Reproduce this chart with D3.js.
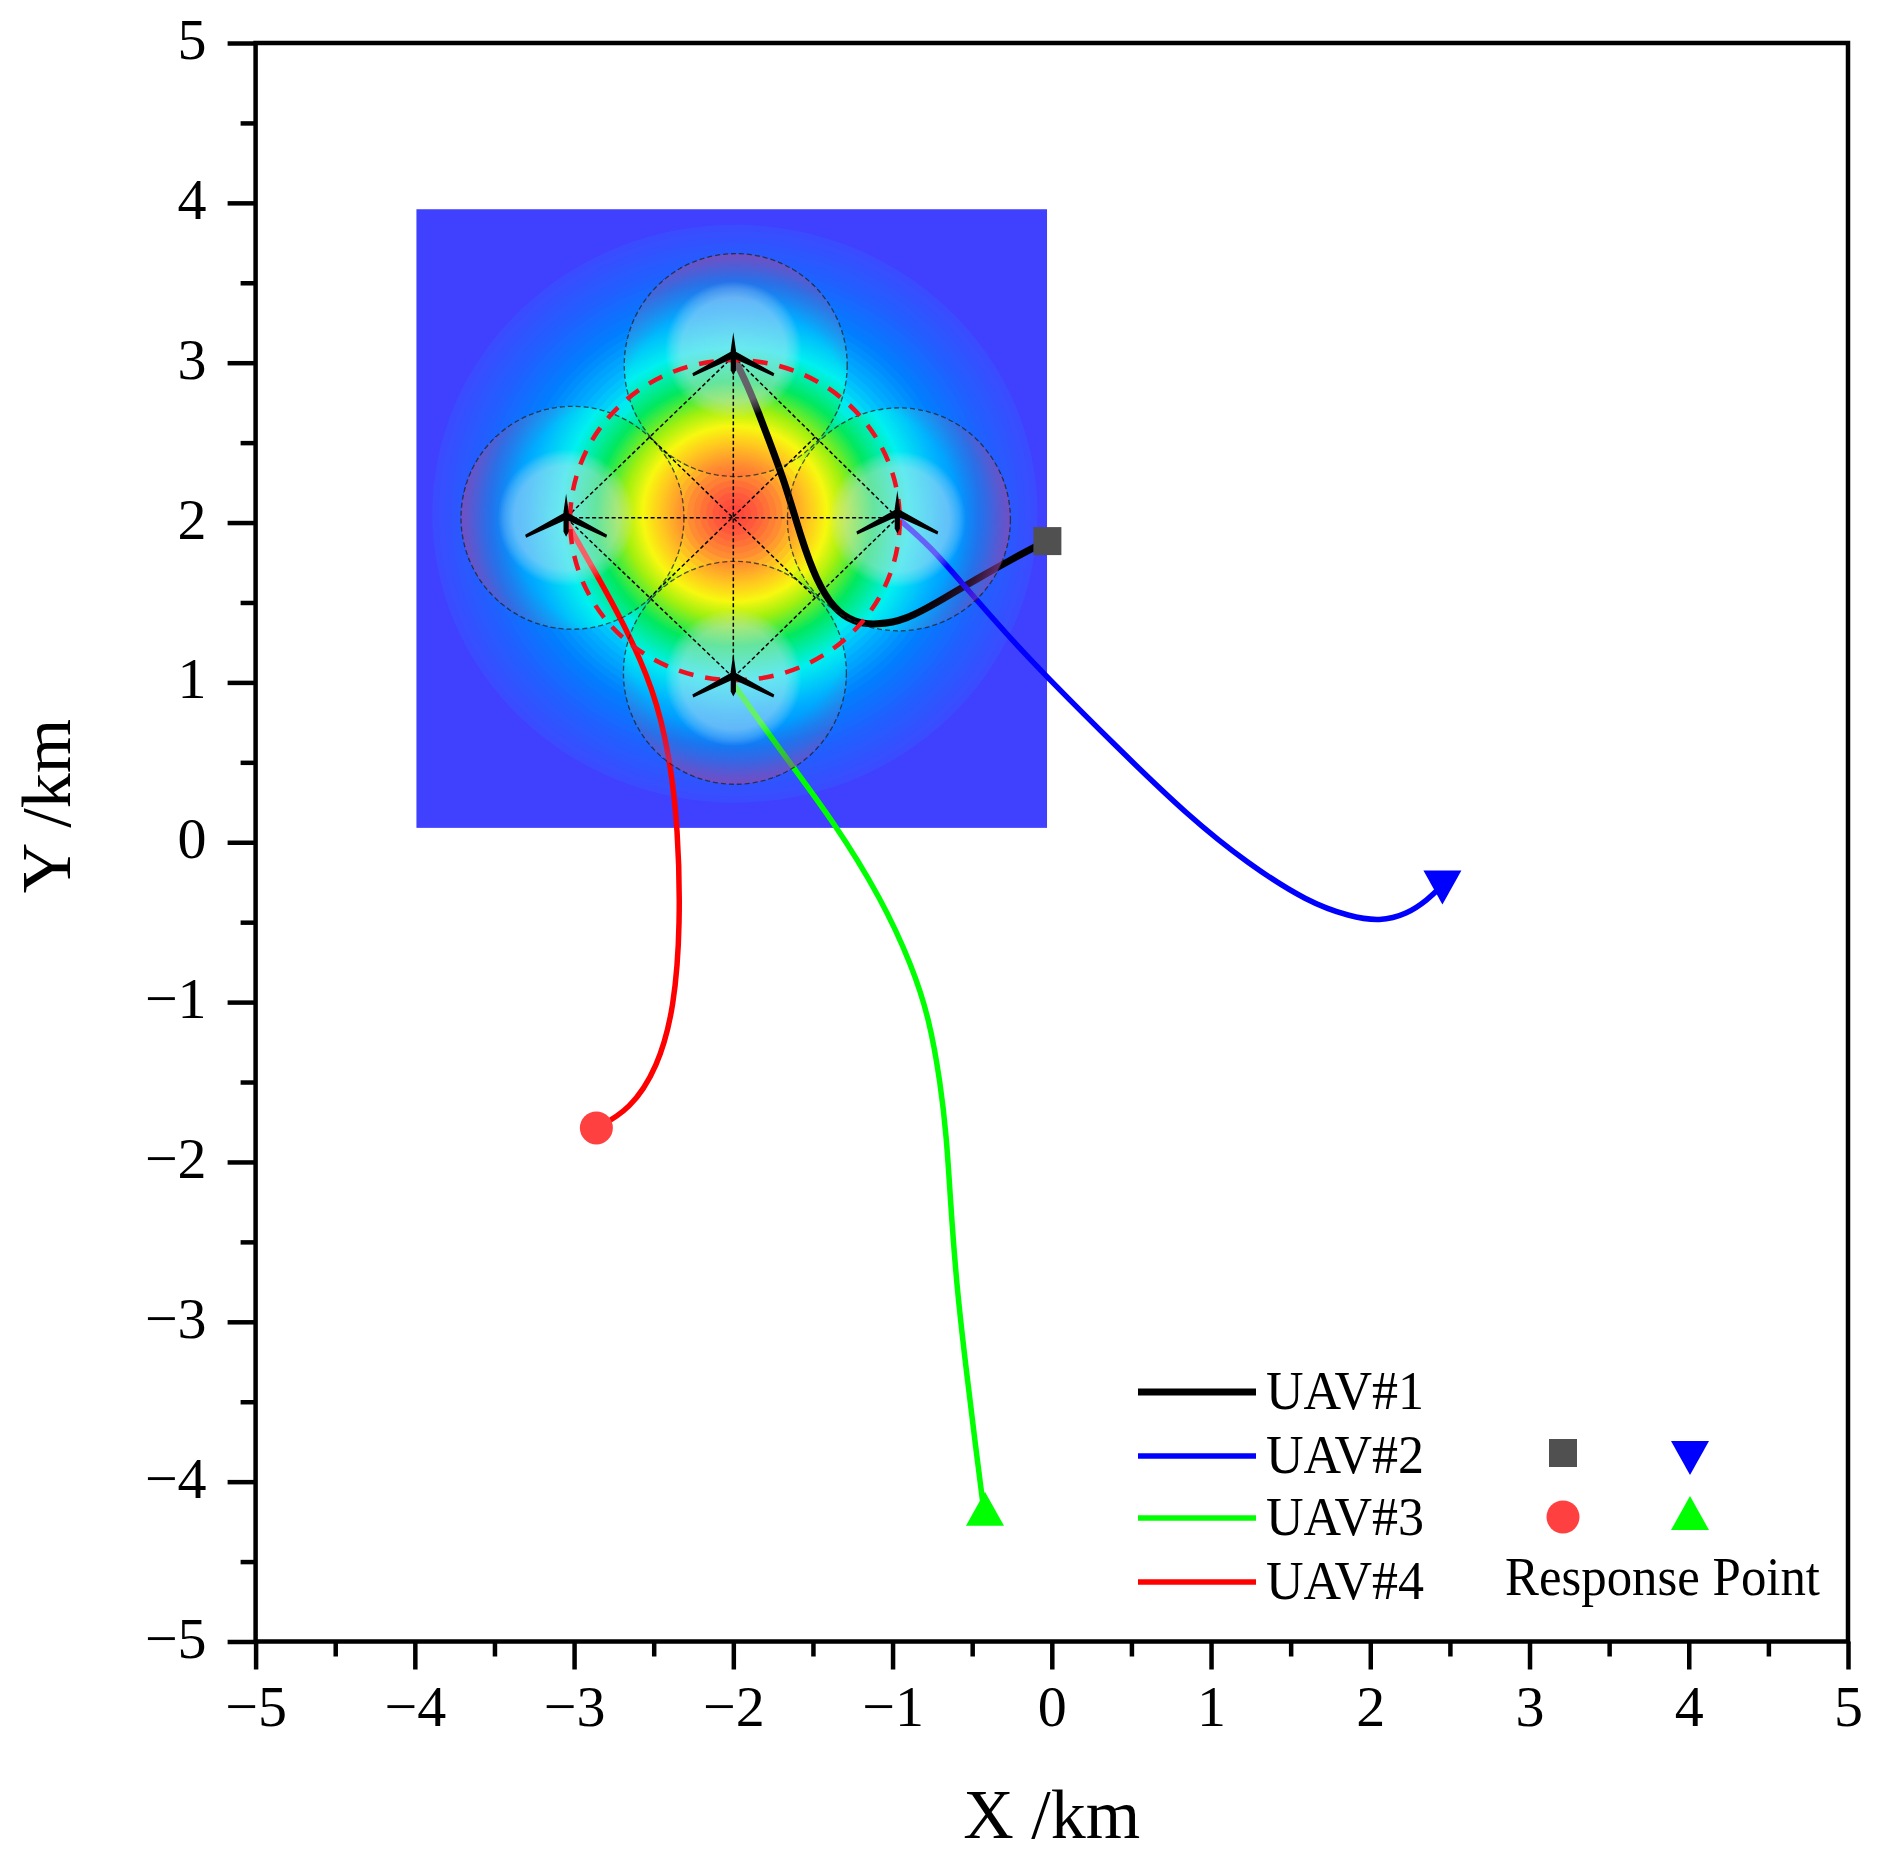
<!DOCTYPE html>
<html><head><meta charset="utf-8"><style>html,body{margin:0;background:#fff}svg{display:block}</style>
<script src="https://d3js.org/d3.v7.min.js"></script></head><body><svg id="c" width="1882" height="1876"></svg>
<script>
const majorTicks=[-5,-4,-3,-2,-1,0,1,2,3,4,5];
const minorTicks=[-4.5,-3.5,-2.5,-1.5,-0.5,0.5,1.5,2.5,3.5,4.5];
const heatBox=[-3.99,3.96,-0.03,0.09];
const fieldCenter=[-1.99,2.03];
const fieldRadii=[0,0.15,0.30,0.43,0.53,0.64,0.80,1.0,1.2,1.4,1.65,1.9];
const fieldColors=["#ff3c3c","#ff5a3c","#ff8c32","#ffc820","#f8f810","#a0f010","#00e860","#00f0f0","#00b0ff","#0080ff","#2060ff","#3a4cff"];
const bgColor="#4040ff";
const zoneX=[-1.985,-3.01,-0.96,-1.99];
const zoneY=[2.985,2.03,2.02,1.06];
const discY=[3.08,2.03,2.02,1.03];
const zoneR=0.70;
const uavX=[-2.0,-3.05,-0.97,-2.0];
const uavY=[3.04,2.03,2.03,1.03];
const glyphY=[3.04,2.03,2.05,1.03];
const ringRadii=[1.035,1.005];
const ringCenterY=2.015;
const uav1X=[-2.0,-1.895,-1.782,-1.669,-1.571,-1.481,-1.368,-1.24,-1.104,-0.916,-0.69,-0.463,-0.237,-0.034];
const uav1Y=[3.04,2.83,2.53,2.23,1.892,1.644,1.456,1.374,1.359,1.389,1.517,1.652,1.779,1.884];
const uav2X=[-0.968,-0.765,-0.539,-0.275,-0.011,0.403,0.855,1.232,1.609,1.873,2.061,2.23,2.36,2.453];
const uav2Y=[2.027,1.854,1.592,1.291,1.013,0.601,0.165,-0.135,-0.375,-0.465,-0.495,-0.45,-0.36,-0.27];
const uav3X=[-2.0,-1.707,-1.368,-1.066,-0.878,-0.77,-0.70,-0.66,-0.637,-0.599,-0.539,-0.479,-0.426];
const uav3Y=[0.991,0.578,0.128,-0.36,-0.773,-1.10,-1.50,-1.85,-2.237,-2.763,-3.288,-3.776,-4.189];
const uav4X=[-3.048,-2.875,-2.686,-2.498,-2.4,-2.347,-2.332,-2.37,-2.475,-2.649,-2.86];
const uav4Y=[2.005,1.704,1.366,0.953,0.541,0.09,-0.511,-1.036,-1.411,-1.674,-1.787];
const seriesNames=["UAV#1","UAV#2","UAV#3","UAV#4"];
const seriesColors=["#000000","#0000ff","#00ff00","#ff0000"];
const seriesWidths=[7,5.5,5.5,5.5];

const svg=d3.select("#c"),defs=svg.append("defs");
const serif='"Liberation Serif","Times New Roman",serif';
const L=255.6,R=1848,T=43,B=1641.5;
const x=d3.scaleLinear([-5,5],[L,R]),y=d3.scaleLinear([-5,5],[B,T]);
const rpx=d=>x(d)-x(0);
const colorAt=d3.scaleLinear(fieldRadii,fieldColors).interpolate(d3.interpolateRgb).clamp(true);

svg.append("rect").attr("x",x(heatBox[0])).attr("y",y(heatBox[1])).attr("width",x(heatBox[2])-x(heatBox[0])).attr("height",y(heatBox[3])-y(heatBox[1])).attr("fill",bgColor);
function bands(g,step,scale){
  g.selectAll("ellipse.b").data(d3.range(1.9,0,-step)).join("ellipse").attr("class","b")
   .attr("cx",x(fieldCenter[0])).attr("cy",y(fieldCenter[1])-4).attr("rx",d=>rpx(d*scale)).attr("ry",d=>rpx(d*scale)*0.955).attr("fill",d=>colorAt(d));
}
bands(svg.append("g"),0.04,1);
const zones=d3.range(4);
zones.forEach(i=>{
  defs.append("clipPath").attr("id","z"+i).append("circle").attr("cx",x(zoneX[i])).attr("cy",y(zoneY[i])).attr("r",rpx(zoneR));
  bands(svg.append("g").attr("clip-path",`url(#z${i})`),0.012,1.1);
});

const line=d3.line().x(d=>x(d[0])).y(d=>y(d[1])).curve(d3.curveBasis);
const tracks=[d3.zip(uav1X,uav1Y),d3.zip(uav2X,uav2Y),d3.zip(uav3X,uav3Y),d3.zip(uav4X,uav4Y)];
svg.append("g").attr("fill","none").selectAll("path").data(tracks).join("path")
  .attr("d",line).attr("stroke",(d,i)=>seriesColors[i]).attr("stroke-width",(d,i)=>seriesWidths[i]);

zones.forEach(i=>{
  const cx=x(zoneX[i]),cy=y(zoneY[i]),r=rpx(zoneR);
  const dx=x(fieldCenter[0])-cx,dy=y(fieldCenter[1])-cy,len=Math.hypot(dx,dy),sh=r*0.5;
  const gr=defs.append("radialGradient").attr("id","ring"+i).attr("gradientUnits","userSpaceOnUse")
    .attr("cx",cx+dx/len*sh).attr("cy",cy+dy/len*sh).attr("r",r+sh);
  [[0,0],[0.7,0],[0.86,0.3],[1,0.7]].forEach(s=>gr.append("stop").attr("offset",s[0]).attr("stop-color","#9a44a8").attr("stop-opacity",s[1]));
  svg.append("circle").attr("cx",cx).attr("cy",cy).attr("r",r).attr("fill",`url(#ring${i})`);
  const wg=defs.append("radialGradient").attr("id","disc"+i);
  [[0,0.46],[0.76,0.42],[0.9,0.22],[1,0]].forEach(s=>wg.append("stop").attr("offset",s[0]).attr("stop-color","#e8e0f0").attr("stop-opacity",s[1]));
  svg.append("circle").attr("cx",x(uavX[i])).attr("cy",y(discY[i])).attr("r",rpx(0.43)).attr("fill",`url(#disc${i})`);
  svg.append("circle").attr("cx",cx).attr("cy",cy).attr("r",r).attr("fill","none").attr("stroke","#222").attr("stroke-opacity",.75).attr("stroke-width",1.3).attr("stroke-dasharray","5 3");
});

const pts=zones.map(i=>[uavX[i],uavY[i]]);
const mids=[[0,1],[0,2],[3,1],[3,2]].map(p=>[(pts[p[0]][0]+pts[p[1]][0])/2,(pts[p[0]][1]+pts[p[1]][1])/2]);
const segs=[[pts[0],pts[1]],[pts[1],pts[3]],[pts[3],pts[2]],[pts[2],pts[0]],[pts[0],pts[3]],[pts[1],pts[2]],[mids[0],mids[3]],[mids[1],mids[2]]];
svg.append("g").selectAll("line").data(segs).join("line")
  .attr("x1",d=>x(d[0][0])).attr("y1",d=>y(d[0][1])).attr("x2",d=>x(d[1][0])).attr("y2",d=>y(d[1][1]))
  .attr("stroke","#000").attr("stroke-width",1.5).attr("stroke-dasharray","4 2.5");

svg.append("ellipse").attr("cx",x(fieldCenter[0])).attr("cy",y(ringCenterY)).attr("rx",rpx(ringRadii[0])).attr("ry",rpx(ringRadii[1]))
  .attr("fill","none").attr("stroke","#f01020").attr("stroke-width",4.5).attr("stroke-dasharray","15 12");

defs.append("filter").attr("id","soft").append("feGaussianBlur").attr("stdDeviation",0.7);
const glyph=svg.append("g").attr("filter","url(#soft)").selectAll("g").data(zones).join("g").attr("transform",i=>`translate(${x(uavX[i])},${y(glyphY[i])})`);
glyph.append("path").attr("d","M0,-24L2.6,-6L2.6,14L0,19L-2.6,14L-2.6,-6Z").attr("fill","#000");
glyph.append("path").attr("d","M0,-6L41,17L40,20L0,2L-40,20L-41,17Z").attr("fill","#000");

const fmt=d3.format("d");
svg.append("g").attr("transform",`translate(0,${B})`).call(d3.axisBottom(x).tickValues(majorTicks).tickSize(28).tickPadding(15).tickFormat(fmt));
svg.append("g").attr("transform",`translate(0,${B})`).call(d3.axisBottom(x).tickValues(minorTicks).tickSize(15).tickFormat(""));
const gy=svg.append("g").attr("transform",`translate(${L},0)`).call(d3.axisLeft(y).tickValues(majorTicks).tickSize(28).tickPadding(21).tickFormat(fmt));
svg.append("g").attr("transform",`translate(${L},0)`).call(d3.axisLeft(y).tickValues(minorTicks).tickSize(15).tickFormat(""));
svg.selectAll(".domain").remove();
svg.selectAll(".tick line").attr("stroke","#000").attr("stroke-width",4.5);
svg.selectAll(".tick text").attr("fill","#000").attr("font-family",serif).attr("font-size",58);
gy.selectAll(".tick text").attr("y",-3);
svg.append("rect").attr("x",L).attr("y",T).attr("width",R-L).attr("height",B-T).attr("fill","none").attr("stroke","#000").attr("stroke-width",4.5);

svg.append("text").attr("x",(L+R)/2).attr("y",1838).attr("text-anchor","middle").attr("font-family",serif).attr("font-size",70).text("X /km");
svg.append("text").attr("transform",`translate(70,806) rotate(-90)`).attr("text-anchor","middle").attr("font-family",serif).attr("font-size",70).text("Y /km");

const sq=d3.symbol().type(d3.symbolSquare).size(28*28);
const circ=d3.symbol().type(d3.symbolCircle).size(Math.PI*16.5*16.5);
const tri="M-19,15L19,15L0,-19Z", inv="M-19,-15L19,-15L0,19Z";
function markers(g,p){
  g.append("path").attr("d",sq).attr("fill","#505050").attr("transform",`translate(${p[0][0]},${p[0][1]})`);
  g.append("path").attr("d",inv).attr("fill","#0000ff").attr("transform",`translate(${p[1][0]},${p[1][1]})`);
  g.append("path").attr("d",tri).attr("fill","#00ff00").attr("transform",`translate(${p[2][0]},${p[2][1]})`);
  g.append("path").attr("d",circ).attr("fill","#ff4040").attr("transform",`translate(${p[3][0]},${p[3][1]})`);
}
const ends=tracks.map(t=>t[t.length-1]);
markers(svg.append("g"),[[x(ends[0][0])+1,y(ends[0][1])],[x(ends[1][0]),y(ends[1][1])],[x(ends[2][0])+1,y(ends[2][1])-1],[x(ends[3][0]),y(ends[3][1])]]);

const ly=[1392,1456,1518,1582];
const leg=svg.append("g").selectAll("g").data(seriesNames).join("g");
leg.append("line").attr("x1",1138).attr("x2",1256).attr("y1",(d,i)=>ly[i]).attr("y2",(d,i)=>ly[i]).attr("stroke",(d,i)=>seriesColors[i]).attr("stroke-width",(d,i)=>seriesWidths[i]);
leg.append("text").attr("x",1266).attr("y",(d,i)=>ly[i]+17).attr("font-family",serif).attr("font-size",54).attr("textLength",158).attr("lengthAdjust","spacingAndGlyphs").text(d=>d);
markers(svg.append("g"),[[1563,1453],[1690,1456],[1690,1515],[1563,1517]]);
svg.append("text").attr("x",1505).attr("y",1595).attr("font-family",serif).attr("font-size",54).attr("textLength",315).attr("lengthAdjust","spacingAndGlyphs").text("Response Point");
</script></body></html>
